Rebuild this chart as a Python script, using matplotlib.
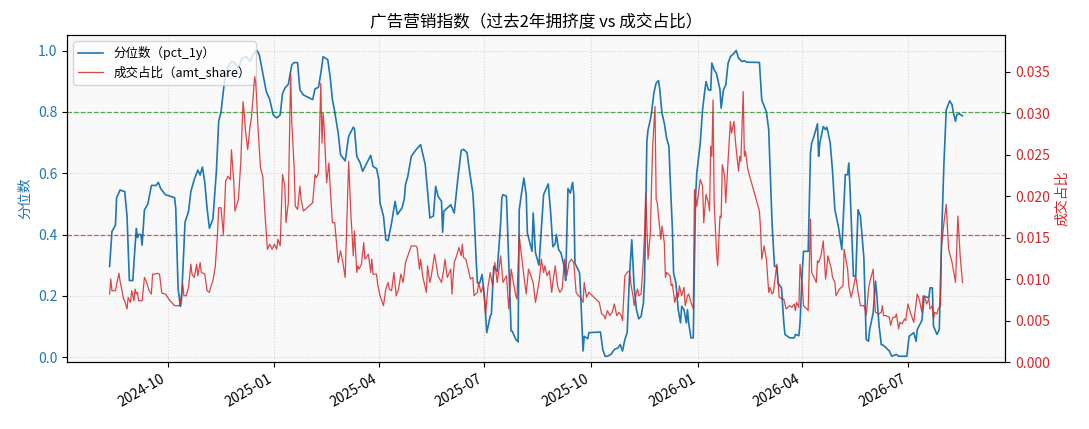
import numpy as np
import pandas as pd
import matplotlib
matplotlib.use("Agg")
import matplotlib.pyplot as plt

plt.rcParams['font.family'] = ['Noto Sans CJK SC', 'DejaVu Sans']
plt.rcParams['axes.unicode_minus'] = False

start = pd.Timestamp("2024-08-12")

# 分位数 (pct_1y): day offset from start, value
blue_days = [0, 2, 5, 6, 9, 13, 15, 17, 20, 21, 23, 24, 25, 27, 28, 30, 33, 36, 40, 42,
             44, 48, 56, 57, 59, 61, 62, 65, 68, 70, 73, 76, 78, 80, 82, 84, 86, 89, 92, 94,
             96, 99, 102, 105, 108, 111, 114, 118, 121, 124, 127, 129, 132, 135, 138, 141, 144, 147, 149, 151,
             154, 157, 159, 162, 164, 167, 175, 177, 180, 182, 184, 188, 190, 192, 194, 197, 199, 203, 206, 210,
             211, 213, 216, 218, 225, 227, 230, 232, 233, 236, 238, 240, 243, 246, 248, 252, 254, 255, 257, 260,
             264, 268, 272, 276, 279, 281, 283, 286, 287, 288, 294, 297, 300, 303, 305, 308, 310, 313, 314, 316,
             317, 319, 321, 323, 325, 328, 329, 331, 334, 337, 338, 339, 342, 344, 346, 347, 350, 352, 353, 355,
             357, 359, 360, 364, 365, 367, 370, 374, 378, 380, 382, 384, 385, 387, 389, 392, 393, 395, 397, 399,
             400, 401, 405, 406, 408, 409, 412, 413, 423, 425, 427, 429, 432, 435, 438, 440, 442, 444, 446, 448,
             450, 451, 452, 454, 456, 458, 460, 461, 463, 464, 466, 467, 469, 471, 473, 474, 476, 478, 480, 482,
             483, 485, 486, 488, 490, 492, 493, 495, 497, 498, 499, 501, 503, 504, 505, 506, 509, 511, 513, 514,
             516, 518, 519, 521, 523, 526, 527, 529, 531, 533, 535, 538, 540, 542, 545, 547, 549, 560, 562, 566,
             568, 569, 571, 573, 575, 576, 579, 581, 582, 586, 590, 591, 594, 595, 597, 598, 602, 604, 605, 607,
             610, 611, 612, 615, 617, 618, 619, 621, 623, 625, 628, 631, 634, 636, 637, 638, 641, 643, 645, 647,
             650, 652, 654, 655, 658, 660, 661, 663, 665, 667, 672, 674, 678, 680, 687, 689, 693, 695, 696, 700,
             702, 706, 707, 709, 710, 713, 715, 717, 719, 721, 724, 726, 727, 729, 730, 732, 735]
blue_vals = [0.296, 0.41, 0.43, 0.52, 0.545, 0.54, 0.46, 0.25, 0.25, 0.31, 0.42, 0.39, 0.40, 0.40, 0.365, 0.48, 0.50, 0.56, 0.56, 0.57,
             0.55, 0.53, 0.52, 0.485, 0.225, 0.165, 0.19, 0.44, 0.475, 0.54, 0.58, 0.61, 0.594, 0.62, 0.57, 0.485, 0.42, 0.45, 0.605, 0.77,
             0.80, 0.90, 0.948, 0.964, 0.96, 0.943, 0.975, 0.98, 0.964, 0.99, 1.0, 0.986, 0.926, 0.866, 0.84, 0.79, 0.78, 0.79, 0.86, 0.877,
             0.89, 0.953, 0.961, 0.96, 0.872, 0.855, 0.84, 0.875, 0.88, 0.926, 0.98, 0.97, 0.915, 0.84, 0.80, 0.73, 0.66, 0.64, 0.72, 0.75,
             0.745, 0.655, 0.633, 0.606, 0.658, 0.622, 0.615, 0.579, 0.503, 0.46, 0.383, 0.38, 0.438, 0.508, 0.465, 0.487, 0.517, 0.563, 0.59, 0.655,
             0.676, 0.693, 0.628, 0.454, 0.46, 0.557, 0.525, 0.508, 0.407, 0.476, 0.497, 0.47, 0.579, 0.674, 0.678, 0.667, 0.611, 0.535, 0.476, 0.307,
             0.242, 0.242, 0.27, 0.199, 0.08, 0.134, 0.14, 0.296, 0.28, 0.438, 0.519, 0.53, 0.525, 0.30, 0.085, 0.085, 0.058, 0.05, 0.48, 0.535,
             0.584, 0.53, 0.405, 0.345, 0.47, 0.34, 0.30, 0.53, 0.565, 0.476, 0.36, 0.37, 0.40, 0.35, 0.34, 0.29, 0.25, 0.55, 0.535, 0.57,
             0.53, 0.307, 0.275, 0.199, 0.02, 0.068, 0.06, 0.08, 0.082, 0.025, 0.003, 0.003, 0.009, 0.025, 0.03, 0.041, 0.02, 0.057, 0.08, 0.264,
             0.383, 0.31, 0.231, 0.155, 0.125, 0.133, 0.177, 0.253, 0.704, 0.742, 0.774, 0.796, 0.861, 0.894, 0.902, 0.877, 0.796, 0.763, 0.714, 0.687,
             0.59, 0.416, 0.275, 0.242, 0.155, 0.112, 0.166, 0.155, 0.112, 0.155, 0.112, 0.063, 0.063, 0.307, 0.524, 0.60, 0.698, 0.807, 0.872, 0.899,
             0.872, 0.87, 0.959, 0.937, 0.925, 0.872, 0.812, 0.872, 0.888, 0.959, 0.98, 0.991, 1.0, 0.975, 0.964, 0.967, 0.962, 0.961, 0.839, 0.80,
             0.742, 0.633, 0.427, 0.296, 0.296, 0.242, 0.226, 0.112, 0.074, 0.063, 0.063, 0.074, 0.07, 0.112, 0.286, 0.345, 0.345, 0.666, 0.698, 0.72,
             0.761, 0.655, 0.698, 0.752, 0.742, 0.75, 0.736, 0.698, 0.606, 0.481, 0.427, 0.351, 0.595, 0.595, 0.633, 0.557, 0.264, 0.264, 0.481, 0.46,
             0.324, 0.058, 0.052, 0.09, 0.144, 0.248, 0.21, 0.106, 0.041, 0.038, 0.02, 0.003, 0.009, 0.003, 0.003, 0.068, 0.08, 0.052, 0.09, 0.12,
             0.199, 0.193, 0.226, 0.226, 0.101, 0.074, 0.09, 0.394, 0.633, 0.807, 0.836, 0.823, 0.80, 0.769, 0.79, 0.794, 0.787]

# 成交占比 (amt_share): day offset from start, value
red_days = [0, 1, 2, 5, 8, 9, 12, 13, 15, 16, 18, 19, 21, 22, 23, 24, 25, 28, 30, 32,
            34, 36, 37, 39, 41, 43, 45, 48, 52, 56, 60, 61, 63, 64, 66, 68, 70, 71, 73, 75,
            76, 78, 79, 82, 84, 86, 87, 89, 91, 93, 94, 96, 98, 100, 102, 104, 105, 106, 107, 108,
            111, 113, 115, 116, 117, 119, 121, 122, 123, 125, 126, 128, 130, 132, 134, 136, 138, 140, 142, 144,
            145, 147, 149, 151, 152, 154, 156, 157, 159, 160, 162, 164, 165, 167, 175, 177, 178, 180, 182, 183,
            184, 185, 187, 189, 190, 192, 194, 197, 199, 201, 203, 206, 208, 210, 211, 213, 214, 215, 217, 219,
            220, 223, 225, 226, 227, 230, 231, 233, 236, 238, 240, 241, 243, 245, 247, 249, 251, 253, 255, 257,
            260, 264, 265, 267, 268, 270, 273, 274, 276, 277, 280, 283, 286, 288, 289, 291, 294, 295, 297, 299,
            301, 303, 304, 305, 307, 309, 311, 313, 314, 317, 318, 320, 322, 324, 326, 328, 330, 332, 334, 337,
            339, 342, 344, 346, 348, 350, 351, 353, 355, 357, 359, 361, 363, 365, 367, 370, 371, 372, 374, 375,
            377, 379, 381, 382, 384, 386, 388, 390, 392, 394, 396, 398, 400, 402, 404, 406, 408, 409, 411, 413,
            416, 419, 422, 424, 426, 427, 429, 431, 433, 435, 437, 439, 441, 442, 444, 446, 448, 449, 451, 452,
            454, 455, 456, 458, 460, 461, 462, 463, 464, 466, 467, 468, 470, 471, 472, 473, 475, 476, 478, 479,
            480, 483, 484, 485, 487, 489, 490, 491, 493, 495, 496, 498, 499, 501, 503, 504, 506, 509, 511, 512,
            514, 516, 517, 518, 519, 520, 521, 523, 524, 526, 527, 528, 530, 531, 533, 535, 536, 538, 539, 540,
            542, 543, 544, 546, 547, 548, 550, 552, 560, 561, 562, 564, 566, 568, 569, 571, 572, 575, 577, 580,
            581, 583, 586, 588, 590, 591, 592, 594, 595, 597, 598, 601, 602, 604, 605, 607, 609, 610, 611, 613,
            615, 617, 618, 619, 622, 623, 625, 626, 629, 632, 633, 636, 637, 639, 641, 643, 645, 647, 650, 651,
            652, 654, 655, 658, 659, 660, 663, 665, 666, 667, 669, 672, 673, 675, 677, 678, 680, 681, 683, 685,
            686, 688, 690, 693, 694, 696, 698, 700, 701, 703, 704, 706, 707, 709, 710, 711, 713, 714, 716, 717,
            719, 721, 723, 726, 729, 731, 733, 735]
red_vals = [0.0082, 0.0100, 0.0086, 0.0086, 0.0107, 0.0098, 0.0076, 0.0074, 0.0064, 0.0078, 0.0072, 0.0086, 0.0074, 0.0088, 0.0082, 0.0084, 0.0074, 0.0074, 0.0102, 0.0096,
            0.0086, 0.0082, 0.0106, 0.0106, 0.0107, 0.0106, 0.0083, 0.0082, 0.0074, 0.0068, 0.0068, 0.0072, 0.0094, 0.0080, 0.0080, 0.0090, 0.0118, 0.0106, 0.0102, 0.0118,
            0.0104, 0.0120, 0.0108, 0.0106, 0.0086, 0.0084, 0.0090, 0.0098, 0.0114, 0.0155, 0.0186, 0.0186, 0.0154, 0.0218, 0.0224, 0.0220, 0.0256, 0.0236, 0.0218, 0.0182,
            0.0196, 0.0240, 0.0314, 0.0300, 0.0280, 0.0256, 0.0284, 0.0292, 0.0308, 0.0344, 0.0336, 0.0280, 0.0234, 0.0224, 0.0176, 0.0136, 0.0142, 0.0136, 0.0142, 0.0136,
            0.0148, 0.0140, 0.0226, 0.0212, 0.0168, 0.0192, 0.0348, 0.0288, 0.0236, 0.0188, 0.0184, 0.0212, 0.0196, 0.0182, 0.0192, 0.0226, 0.0222, 0.0228, 0.0336, 0.0264,
            0.0300, 0.0280, 0.0216, 0.0240, 0.0212, 0.0168, 0.0168, 0.0120, 0.0134, 0.0120, 0.0102, 0.0242, 0.0176, 0.0128, 0.0158, 0.0108, 0.0116, 0.0112, 0.0118, 0.0144,
            0.0124, 0.0130, 0.0108, 0.0124, 0.0106, 0.0106, 0.0094, 0.0080, 0.0068, 0.0088, 0.0096, 0.0088, 0.0086, 0.0108, 0.0080, 0.0088, 0.0106, 0.0096, 0.0120, 0.0128,
            0.0140, 0.0140, 0.0138, 0.0112, 0.0124, 0.0102, 0.0084, 0.0116, 0.0096, 0.0102, 0.0130, 0.0104, 0.0096, 0.0112, 0.0124, 0.0102, 0.0112, 0.0082, 0.0120, 0.0128,
            0.0138, 0.0128, 0.0142, 0.0126, 0.0124, 0.0112, 0.0100, 0.0102, 0.0080, 0.0084, 0.0096, 0.0084, 0.0092, 0.0058, 0.0090, 0.0108, 0.0092, 0.0120, 0.0096, 0.0128,
            0.0096, 0.0104, 0.0064, 0.0112, 0.0096, 0.0080, 0.0076, 0.0152, 0.0128, 0.0104, 0.0082, 0.0112, 0.0104, 0.0096, 0.0072, 0.0096, 0.0108, 0.0124, 0.0108, 0.0116,
            0.0104, 0.0110, 0.0084, 0.0096, 0.0116, 0.0092, 0.0084, 0.0088, 0.0124, 0.0104, 0.0120, 0.0124, 0.0120, 0.0084, 0.0080, 0.0078, 0.0072, 0.0096, 0.0078, 0.0084,
            0.0080, 0.0076, 0.0072, 0.0058, 0.0056, 0.0052, 0.0062, 0.0056, 0.0060, 0.0070, 0.0056, 0.0060, 0.0056, 0.0050, 0.0104, 0.0108, 0.0110, 0.0096, 0.0080, 0.0068,
            0.0084, 0.0088, 0.0080, 0.0082, 0.0124, 0.0156, 0.0204, 0.0164, 0.0124, 0.0156, 0.0212, 0.0260, 0.0308, 0.0196, 0.0192, 0.0176, 0.0148, 0.0164, 0.0144, 0.0102,
            0.0108, 0.0104, 0.0092, 0.0094, 0.0072, 0.0084, 0.0078, 0.0092, 0.0080, 0.0090, 0.0068, 0.0080, 0.0082, 0.0072, 0.0064, 0.0208, 0.0188, 0.0220, 0.0212, 0.0168,
            0.0202, 0.0192, 0.0182, 0.0260, 0.0248, 0.0316, 0.0192, 0.0132, 0.0116, 0.0176, 0.0174, 0.0238, 0.0224, 0.0192, 0.0244, 0.0290, 0.0276, 0.0290, 0.0272, 0.0256,
            0.0230, 0.0248, 0.0242, 0.0326, 0.0248, 0.0254, 0.0232, 0.0222, 0.0182, 0.0160, 0.0124, 0.0140, 0.0124, 0.0084, 0.0090, 0.0082, 0.0084, 0.0118, 0.0078, 0.0076,
            0.0076, 0.0064, 0.0068, 0.0066, 0.0070, 0.0062, 0.0072, 0.0066, 0.0118, 0.0090, 0.0068, 0.0064, 0.0062, 0.0172, 0.0108, 0.0102, 0.0096, 0.0122, 0.0120, 0.0128,
            0.0146, 0.0100, 0.0112, 0.0128, 0.0112, 0.0102, 0.0096, 0.0080, 0.0088, 0.0092, 0.0136, 0.0112, 0.0092, 0.0078, 0.0090, 0.0104, 0.0084, 0.0068, 0.0068, 0.0064,
            0.0056, 0.0088, 0.0096, 0.0112, 0.0080, 0.0060, 0.0058, 0.0060, 0.0068, 0.0056, 0.0056, 0.0054, 0.0044, 0.0054, 0.0054, 0.0058, 0.0040, 0.0048, 0.0046, 0.0052,
            0.0050, 0.0070, 0.0060, 0.0048, 0.0060, 0.0082, 0.0074, 0.0060, 0.0080, 0.0076, 0.0070, 0.0076, 0.0064, 0.0068, 0.0052, 0.0060, 0.0058, 0.0064, 0.0068, 0.0140,
            0.0168, 0.0190, 0.0136, 0.0120, 0.0096, 0.0176, 0.0128, 0.0096]

blue_dates = start + pd.to_timedelta(blue_days, unit="D")
red_dates = start + pd.to_timedelta(red_days, unit="D")

fig, ax1 = plt.subplots(figsize=(10.89, 4.29), dpi=100)
ax1.set_facecolor('#f9f9f9')

l1, = ax1.plot(blue_dates, blue_vals, color='tab:blue', lw=1.2, label='分位数（pct_1y）')
ax1.axhline(0.8, color='green', ls='--', lw=0.9, alpha=0.65, zorder=3)
ax1.axhline(0.4, color='red', ls='--', lw=0.9, alpha=0.7, zorder=3)
ax1.set_ylim(-0.016, 1.05)
ax1.set_ylabel('分位数', color='tab:blue')
ax1.tick_params(axis='y', labelcolor='tab:blue')
ax1.grid(True, linestyle=':', color='#cccccc', alpha=0.8)

ax2 = ax1.twinx()
l2, = ax2.plot(red_dates, red_vals, color='tab:red', lw=0.9, alpha=0.85, label='成交占比（amt_share）')
ax2.set_ylim(0, 0.0394)
ax2.set_ylabel('成交占比', color='tab:red')
ax2.tick_params(axis='y', labelcolor='tab:red')

ax1.legend(handles=[l1, l2], loc='upper left', fontsize=9)
ax1.set_title('广告营销指数（过去2年拥挤度 vs 成交占比）', fontsize=12)
fig.autofmt_xdate()
fig.subplots_adjust(left=0.0615, right=0.923, top=0.918, bottom=0.156)

fig.savefig('out.png', dpi=100)
